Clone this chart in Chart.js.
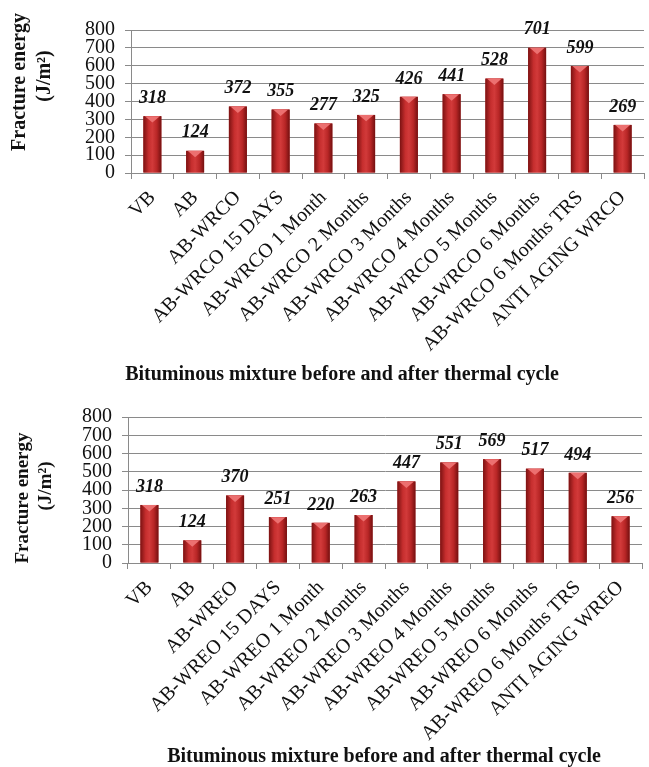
<!DOCTYPE html>
<html>
<head>
<meta charset="utf-8">
<script src="https://cdn.jsdelivr.net/npm/chart.js@4/dist/chart.umd.min.js"></script>
<style>
  html, body { margin: 0; padding: 0; background: #fff; }
  canvas { display: block; }
</style>
</head>
<body>
<canvas id="chartWrco" width="649" height="385"></canvas>
<canvas id="chartWreo" width="649" height="382"></canvas>
<script>
const wrcoLabels = ["VB", "AB", "AB-WRCO", "AB-WRCO 15 DAYS", "AB-WRCO 1 Month", "AB-WRCO 2 Months",
  "AB-WRCO 3 Months", "AB-WRCO 4 Months", "AB-WRCO 5 Months", "AB-WRCO 6 Months",
  "AB-WRCO 6 Months TRS", "ANTI AGING WRCO"];
const wrcoValues = [318, 124, 372, 355, 277, 325, 426, 441, 528, 701, 599, 269];

const wreoLabels = ["VB", "AB", "AB-WREO", "AB-WREO 15 DAYS", "AB-WREO 1 Month", "AB-WREO 2 Months",
  "AB-WREO 3 Months", "AB-WREO 4 Months", "AB-WREO 5 Months", "AB-WREO 6 Months",
  "AB-WREO 6 Months TRS", "ANTI AGING WREO"];
const wreoValues = [318, 124, 370, 251, 220, 263, 447, 551, 569, 517, 494, 256];

const yMin = 0, yMax = 800, yStep = 100;
const yTitle = ["Fracture energy", "(J/m²)"];
const xTitle = "Bituminous mixture before and after thermal cycle";

const serif = "'Liberation Serif', 'Times New Roman', serif";
const gridGray = "#8a8a8a";

// shaded bar body + pink tip, drawn over the plain bars
const barShade = {
  id: "barShade",
  afterDatasetsDraw(chart) {
    const ctx = chart.ctx;
    chart.getDatasetMeta(0).data.forEach(bar => {
      const { x, y, base, width } = bar.getProps(["x", "y", "base", "width"], true);
      const l = x - width / 2, r = x + width / 2;
      const g = ctx.createLinearGradient(l, 0, r, 0);
      g.addColorStop(0, "#7c1212");
      g.addColorStop(0.3, "#c62e2e");
      g.addColorStop(0.5, "#d23a3a");
      g.addColorStop(0.75, "#b82626");
      g.addColorStop(1, "#741010");
      ctx.save();
      ctx.fillStyle = g;
      ctx.fillRect(l, y, width, base - y);
      ctx.beginPath();
      ctx.moveTo(l + 1.5, y);
      ctx.lineTo(r - 1.5, y);
      ctx.lineTo(x, y + width * 0.36);
      ctx.closePath();
      ctx.fillStyle = "#ec7070";
      ctx.fill();
      ctx.restore();
    });
  }
};

// value labels above the bars
const valueLabels = {
  id: "valueLabels",
  afterDatasetsDraw(chart) {
    const ctx = chart.ctx;
    const values = chart.data.datasets[0].data;
    ctx.save();
    ctx.font = "italic bold 18px " + serif;
    ctx.fillStyle = "#111";
    ctx.textAlign = "center";
    ctx.textBaseline = "middle";
    chart.getDatasetMeta(0).data.forEach((bar, i) => {
      ctx.fillText(values[i], bar.x, bar.y - 18);
    });
    ctx.restore();
  }
};

// axis captions, placed like in the original figure (not centred on the plot)
const captions = {
  id: "captions",
  afterDraw(chart, args, opts) {
    const ctx = chart.ctx;
    ctx.save();
    ctx.fillStyle = "#111";
    ctx.textAlign = "center";
    ctx.textBaseline = "middle";
    ctx.font = "bold 20px " + serif;
    ctx.fillText(xTitle, opts.titleX, opts.titleY);
    ctx.font = "bold " + opts.ySize + "px " + serif;
    yTitle.forEach((line, i) => {
      ctx.save();
      ctx.translate(opts.yX[i], opts.yY[i]);
      ctx.rotate(-Math.PI / 2);
      ctx.fillText(line, 0, 0);
      ctx.restore();
    });
    ctx.restore();
  }
};

function makeChart(id, labels, values, cfg) {
  return new Chart(document.getElementById(id), {
    type: "bar",
    data: {
      labels: labels,
      datasets: [{
        data: values,
        backgroundColor: "#b22424",
        barPercentage: 0.42,
        categoryPercentage: 1
      }]
    },
    plugins: [barShade, valueLabels, captions],
    options: {
      responsive: false,
      animation: false,
      layout: { padding: { top: cfg.top, right: cfg.right, left: 0, bottom: cfg.bottom } },
      plugins: {
        legend: { display: false },
        tooltip: { enabled: false },
        title: { display: false },
        captions: cfg.captions
      },
      scales: {
        x: {
          afterFit: s => { s.height = 180; },
          grid: { drawOnChartArea: false, color: gridGray, tickLength: 6 },
          border: { color: gridGray },
          ticks: {
            color: "#111",
            font: { family: serif, size: 20 },
            minRotation: 45,
            maxRotation: 45,
            autoSkip: false,
            padding: 7
          }
        },
        y: {
          min: yMin,
          max: yMax,
          afterFit: s => { s.width = cfg.yWidth; },
          grid: { color: gridGray, tickLength: 6 },
          border: { color: gridGray },
          ticks: {
            stepSize: yStep,
            autoSkip: false,
            color: "#111",
            font: { family: serif, size: 20 },
            padding: 10
          }
        }
      }
    }
  });
}

makeChart("chartWrco", wrcoLabels, wrcoValues, {
  top: 30, bottom: 32, right: 5, yWidth: 131,
  captions: { titleX: 342, titleY: 375, ySize: 20, yX: [20, 45], yY: [82, 76] }
});
makeChart("chartWreo", wreoLabels, wreoValues, {
  top: 32, bottom: 24, right: 7, yWidth: 128,
  captions: { titleX: 384, titleY: 372, ySize: 19, yX: [23, 46], yY: [113, 101] }
});
</script>
</body>
</html>
